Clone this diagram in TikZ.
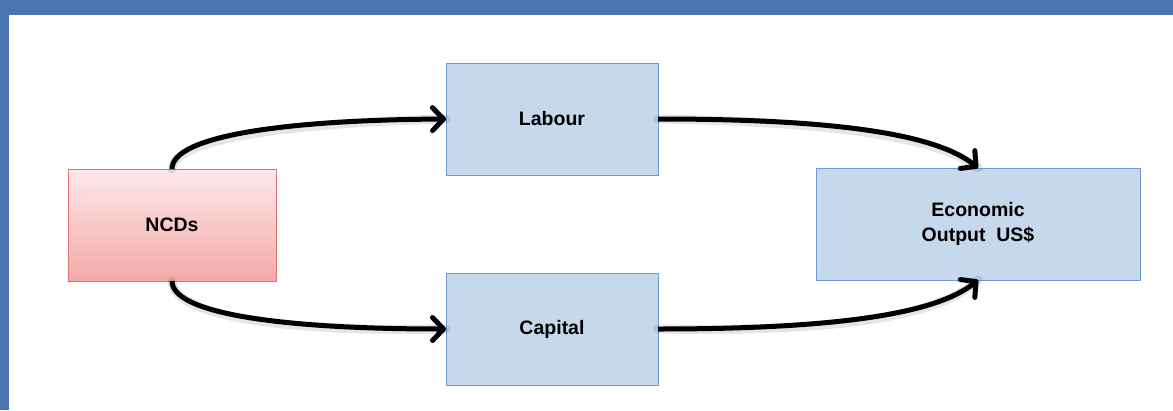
\documentclass[tikz,border=0pt]{standalone}
\usepackage{fontspec}
\setmainfont{Liberation Sans}
\usetikzlibrary{arrows.meta,shadings}
\definecolor{frameblue}{HTML}{4A73B1}
\definecolor{boxblue}{HTML}{C5D8EC}
\definecolor{boxbord}{HTML}{6E9BD3}
\definecolor{pinktop}{HTML}{FDE9EB}
\definecolor{pinkbot}{HTML}{F4A9A8}
\definecolor{pinkbord}{HTML}{E07272}
\tikzset{
  box/.style={draw=boxbord, line width=1pt, fill=boxblue, minimum width=212pt, minimum height=112pt, inner sep=0pt, outer sep=0pt, font=\fontsize{19.5}{25}\selectfont\bfseries, align=center},
  redbox/.style={box, draw=pinkbord, top color=pinktop, bottom color=pinkbot, minimum width=208pt},
  flow/.style={line width=5pt, -{Straight Barb[length=11pt,width=23pt,round]}},
  shadowflow/.style={line width=9pt, draw=black, opacity=0.10, line cap=round, shift={(2pt,-3pt)}}
}
\begin{document}
\begin{tikzpicture}[x=1pt,y=-1pt]
\useasboundingbox (0,0) rectangle (1173,410);
\fill[white] (0,0) rectangle (1173,410);
\fill[frameblue] (0,0) rectangle (1173,15);
\fill[frameblue] (0,0) rectangle (8.5,410);

\node[redbox] (ncd) at (172,225) {NCDs};
\node[box] (lab) at (552,119) {Labour};
\node[box] (cap) at (552,329) {Capital};
\node[box, minimum width=324pt] (eco) at (978,224) {Economic\\Output\ \ US\$};

\draw[shadowflow] (ncd.north) .. controls (172,135) and (290,120) .. (lab.west);
\draw[shadowflow] (ncd.south) .. controls (172,315) and (290,329) .. (cap.west);
\draw[shadowflow] (lab.east) .. controls (830,119) and (935,133) .. (eco.north);
\draw[shadowflow] (cap.east) .. controls (830,329) and (935,315) .. (eco.south);

\draw[flow] (ncd.north) .. controls (172,135) and (290,120) .. (lab.west);
\draw[flow] (ncd.south) .. controls (172,315) and (290,329) .. (cap.west);
\draw[flow] (lab.east) .. controls (830,119) and (935,133) .. (eco.north);
\draw[flow] (cap.east) .. controls (830,329) and (935,315) .. (eco.south);
\end{tikzpicture}
\end{document}
